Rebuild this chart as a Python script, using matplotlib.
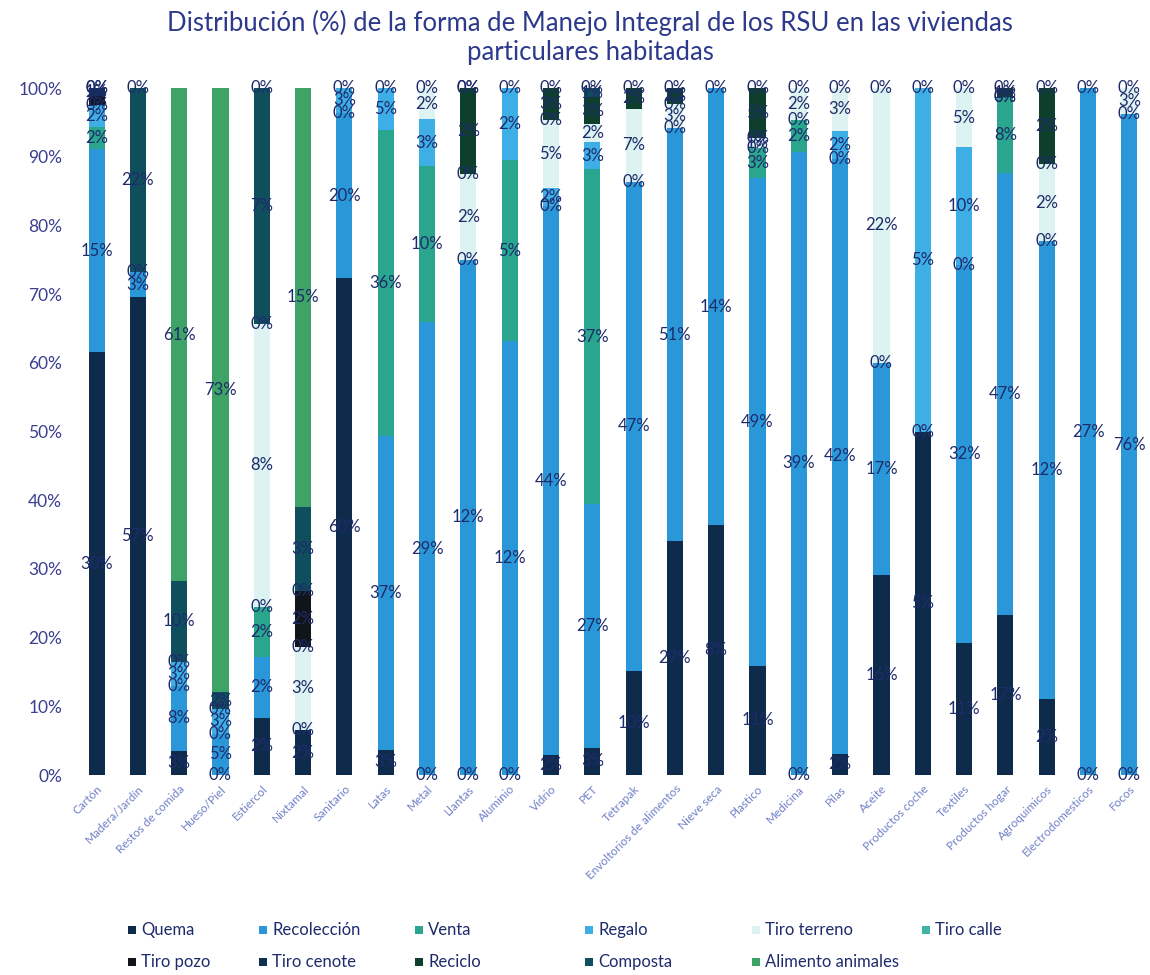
import numpy as np
import matplotlib
matplotlib.use("Agg")
import matplotlib.pyplot as plt
from matplotlib.patches import Rectangle

N = np.nan

# categorías (residuos)
categorias = ['Cartón', 'Madera/Jardín', 'Restos de comida', 'Hueso/Piel', 'Estiercol',
              'Nixtamal', 'Sanitario', 'Latas', 'Metal', 'Llantas', 'Aluminio', 'Vidrio',
              'PET', 'Tetrapak', 'Envoltorios de alimentos', 'Nieve seca', 'Plastico',
              'Medicina', 'Pilas', 'Aceite', 'Productos coche', 'Textiles',
              'Productos hogar', 'Agroquimicos', 'Electrodomesticos', 'Focos']

quema        = [30.4, 57, 3, 0, 1.7, 1.6, 60, 3, 0, 0, 0, 1.6, 3, 10, 29, 8, 11, 0, 1.5, 16, 5, 11.2, 17, 2, 0, 0]
recoleccion  = [14.6, 3, 8, 5, 1.8, 0, 20, 37, 29, 12, 12, 44, 27, 47, 51, 14, 49, 39, 42, 17, 0, 32, 47, 12, 27, 76]
venta        = [1.6, 0, 0, 0, 1.5, N, 0, 36, 10, N, 5, 0, 37, 0, 0, 0, 3, 2, 0, 0, N, 0, 8, 0, 0, 0]
regalo       = [1.6, N, 3, 3, 0, N, 3, 5, 3, 0, 2, 1.5, 3, N, N, N, 0, 0, 2, N, 5, 10, 0, N, N, N]
tiro_terreno = [0, N, 0, 0, 8.4, 3, 0, 0, 2, 2, 0, 5.4, 2, 7, 3, N, 1, 2, 3, 22, 0, 5, 0, 2, N, 3]
tiro_calle   = [N, N, N, N, 0, 0, N, N, N, 0, N, 0, N, N, 0, N, 0, N, N, N, N, N, N, 0, N, N]
tiro_pozo    = [0.6, N, N, N, N, 2, N, N, N, N, N, N, N, N, N, N, N, N, N, N, N, N, N, N, N, N]
tiro_cenote  = [0.6, N, N, N, N, 0, N, N, N, N, N, N, N, N, N, N, N, N, N, N, N, N, N, N, N, N]
reciclo      = [0, N, N, N, N, N, N, N, N, 2, N, 2.6, 3, 2, 2, N, 5, N, N, N, N, N, 1, 2, N, N]
composta     = [N, 22, 10, 2, 7, 3, N, N, N, 0, N, N, 1, N, N, N, N, N, N, N, N, N, N, N, N, N]
alimento     = [0, 0, 61, 73, 0, 15, N, N, 0, 0, N, 0, 0, 0, 0, N, 0, 0, 0, 0, N, 0, 0, 0, N, 0]

series = ['Quema', 'Recolección', 'Venta', 'Regalo', 'Tiro terreno', 'Tiro calle',
          'Tiro pozo', 'Tiro cenote', 'Reciclo', 'Composta', 'Alimento animales']
valores = [quema, recoleccion, venta, regalo, tiro_terreno, tiro_calle,
           tiro_pozo, tiro_cenote, reciclo, composta, alimento]
colores = ['#0f2b4c', '#2a98d8', '#2aa68e', '#3eaee6', '#ddf3f1', '#3db5a0',
           '#111418', '#0c3050', '#0d3f2c', '#0f4e5c', '#3da366']

datos = np.array(valores, dtype=float)
total = np.nansum(datos, axis=0)
pct = np.nan_to_num(datos) / total * 100

plt.rcParams['font.family'] = ['Lato', 'DejaVu Sans']
W, H = 1150, 975
fig = plt.figure(figsize=(W / 100, H / 100), dpi=100)
ax = fig.add_axes([0.066, 0.2051, 0.934, 0.7046])

x = np.arange(len(categorias))
base = np.zeros(len(categorias))
for i, nombre in enumerate(series):
    ax.bar(x, pct[i], 0.39, bottom=base, color=colores[i], label=nombre)
    for j in range(len(categorias)):
        if np.isnan(datos[i, j]):
            continue
        ax.text(x[j], base[j] + pct[i, j] / 2, '{:.0f}%'.format(datos[i, j]),
                ha='center', va='center', fontsize=12, color='#1e2b6b')
    base += pct[i]

ax.set_xlim(-0.5, len(categorias) - 0.5)
ax.set_ylim(0, 100)
ax.set_yticks(np.arange(0, 101, 10))
ax.set_yticklabels(['{}%'.format(v) for v in range(0, 101, 10)], color='#3a3f8f', fontsize=12.5)
ax.set_xticks(x)
ax.set_xticklabels(categorias, rotation=45, ha='right', rotation_mode='anchor',
                   fontsize=8.5, color='#7080c8')
ax.tick_params(length=0, pad=10)
ax.tick_params(axis='x', pad=6)
for s in ax.spines.values():
    s.set_visible(False)

fig.text(0.513, 0.962, 'Distribución (%) de la forma de Manejo Integral de los RSU en las viviendas\nparticulares habitadas',
         ha='center', va='center', fontsize=18.5, color='#2d3a8c', linespacing=1.2)

# leyenda manual: 2 filas como en Excel
col_x = [128, 259, 415, 585, 752, 922]
fila_y = [930, 962]
for k, nombre in enumerate(series):
    fila, col = divmod(k, 6)
    px, py = col_x[col], fila_y[fila]
    fig.patches.append(Rectangle((px / W, (H - py - 4) / H), 8 / W, 8 / H,
                                 transform=fig.transFigure, facecolor=colores[k]))
    fig.text((px + 13) / W, (H - py) / H, nombre, ha='left', va='center',
             fontsize=12, color='#1e2b6b')

fig.savefig('out.png', dpi=100, facecolor='white')
